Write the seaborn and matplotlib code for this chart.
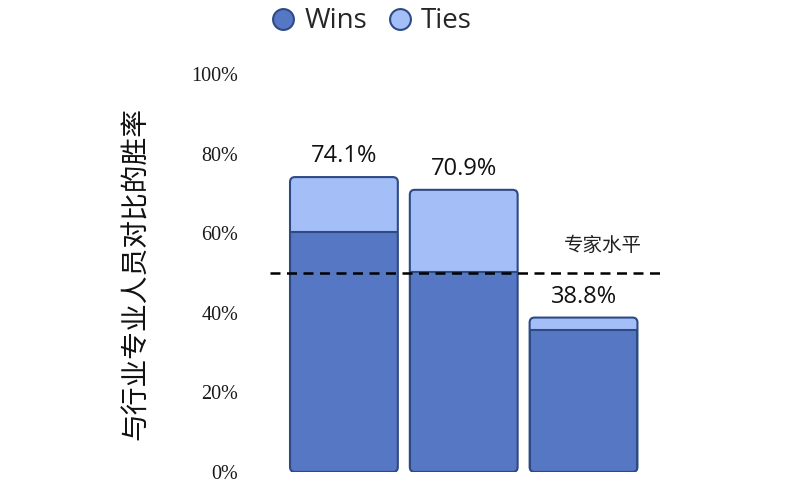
import matplotlib
matplotlib.use("Agg")
import matplotlib.pyplot as plt
import seaborn as sns
import pandas as pd
from matplotlib.patches import FancyBboxPatch, Rectangle
from matplotlib.lines import Line2D

# ---- data ----
groups = ["A", "B", "C"]
wins = [0.603, 0.503, 0.356]
ties = [0.138, 0.206, 0.032]
total_labels = ["74.1%", "70.9%", "38.8%"]
yticks = [0, 0.2, 0.4, 0.6, 0.8, 1.0]
ytick_labels = ["0%", "20%", "40%", "60%", "80%", "100%"]
expert_level = 0.5
expert_text = "专家水平"
ylabel = "与行业专业人员对比的胜率"
legend_labels = ["Wins", "Ties"]

totals = [w + t for w, t in zip(wins, ties)]
df = pd.DataFrame({"group": groups, "wins": wins, "total": totals})

C_WIN = "#5677C3"
C_TIE = "#A4BFF7"
C_EDGE = "#2E4A85"
LATIN = ["Open Sans", "Noto Sans CJK SC", "DejaVu Sans"]

sns.set_theme(style="white")
plt.rcParams["font.family"] = ["Noto Sans CJK SC", "DejaVu Sans"]

fig = plt.figure(figsize=(7.86, 4.87), dpi=100)
ax = fig.add_axes([270 / 786, 1 - 472 / 487, (665 - 270) / 786, (472 - 74) / 487])

sns.barplot(data=df, x="group", y="total", color=C_TIE, width=0.9, ax=ax,
            saturation=1)
sns.barplot(data=df, x="group", y="wins", color=C_WIN, width=0.9, ax=ax,
            saturation=1)

ax.set_xlim(-0.617, 2.68)
ax.set_ylim(0, 1.0)

# convert bars into rounded boxes
patches = list(ax.patches)
n = len(groups)
tot_patches = patches[:n]
win_patches = patches[n:2 * n]
x_per_px = (ax.get_xlim()[1] - ax.get_xlim()[0]) / (665 - 270)
y_per_px = 1.0 / (472 - 74)
aspect = y_per_px / x_per_px
rs = 5 * x_per_px
for tp, wp in zip(tot_patches, win_patches):
    x0, w = tp.get_x(), tp.get_width()
    h_tot = tp.get_height()
    h_win = wp.get_height()
    tp.remove()
    wp.remove()
    rb = FancyBboxPatch((x0, 0), w, h_tot,
                        boxstyle=f"round,pad=0,rounding_size={rs}",
                        mutation_aspect=aspect, facecolor=C_TIE,
                        edgecolor="none", zorder=2)
    ax.add_patch(rb)
    wr = Rectangle((x0, 0), w, h_win, facecolor=C_WIN, edgecolor=C_EDGE,
                   linewidth=1.5, zorder=3)
    ax.add_patch(wr)
    wr.set_clip_path(rb)
    outline = FancyBboxPatch((x0, 0), w, h_tot,
                             boxstyle=f"round,pad=0,rounding_size={rs}",
                             mutation_aspect=aspect, facecolor="none",
                             edgecolor=C_EDGE, linewidth=1.5, zorder=4)
    ax.add_patch(outline)

# expert line
ax.axhline(expert_level, color="black", linestyle=(0, (4, 2.6)),
           linewidth=1.8, zorder=5)
ax.text(2.16, 0.57, expert_text, ha="center", va="center", fontsize=14,
        color="#222222")

# value labels
for i, (t, lab) in enumerate(zip(totals, total_labels)):
    ax.annotate(lab, (i, t), xytext=(0, 15), textcoords="offset points",
                ha="center", va="center", fontsize=17, color="#111111",
                family=LATIN)

ax.set_yticks(yticks)
ax.set_yticklabels(ytick_labels, family=["Liberation Serif"], fontsize=14.5,
                   color="#1a1a1a")
ax.tick_params(axis="y", length=0, pad=23)
ax.set_xticks([])
ax.set_xlabel("")
ax.set_ylabel(ylabel, fontsize=20, labelpad=29, color="#111111")
for s in ax.spines.values():
    s.set_visible(False)

handles = [Line2D([], [], marker="o", linestyle="none", markersize=15,
                  markerfacecolor=c, markeredgecolor=C_EDGE, markeredgewidth=1.5)
           for c in (C_WIN, C_TIE)]
fig.legend(handles, legend_labels, loc="center", bbox_to_anchor=(0.47, 0.956),
           ncol=2, frameon=False, handletextpad=0.15,
           columnspacing=0.6, handlelength=1.2,
           prop={"family": LATIN, "size": 20})

fig.savefig("out.png", dpi=100)
